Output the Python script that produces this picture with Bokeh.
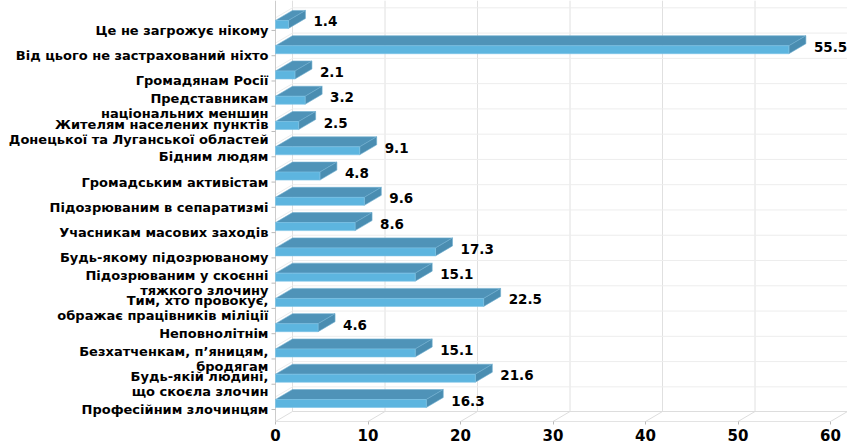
from bokeh.plotting import figure
from bokeh.models import ColumnDataSource, FixedTicker, Range1d
from bokeh.core.properties import value
from bokeh.embed import file_html
from bokeh.resources import INLINE

categories = [
    "Це не загрожує нікому",
    "Від цього не застрахований ніхто",
    "Громадянам Росії",
    "Представникам\nнаціональних меншин",
    "Жителям населених пунктів\nДонецької та Луганської областей",
    "Бідним людям",
    "Громадським активістам",
    "Підозрюваним в сепаратизмі",
    "Учасникам масових заходів",
    "Будь-якому підозрюваному",
    "Підозрюваним у скоєнні\nтяжкого злочину",
    "Тим, хто провокує,\nображає працівників міліції",
    "Неповнолітнім",
    "Безхатченкам, п’яницям,\nбродягам",
    "Будь-якій людині,\nщо скоєла злочин",
    "Професійним злочинцям",
]
values = [1.4, 55.5, 2.1, 3.2, 2.5, 9.1, 4.8, 9.6, 8.6, 17.3, 15.1, 22.5, 4.6, 15.1, 21.6, 16.3]
ticks = [0, 10, 20, 30, 40, 50, 60]
labels = [f"{v:.1f}" for v in values]

FONT = "DejaVu Sans"
W, H = 847, 446
PX_X = 9.25          # pixels per value unit
PX_Y = 25.27         # pixels per category
X0 = 275             # plot-x of value 0
xs, xe = -X0 / PX_X, (W - X0) / PX_X
ys, ye = -12 / PX_Y, 409 / PX_Y

p = figure(width=W, height=H, output_backend="svg", toolbar_location=None,
           x_range=Range1d(xs, xe), y_range=Range1d(ys, ye),
           y_axis_location=None, min_border_left=0, min_border_right=0,
           min_border_top=0, min_border_bottom=25)
p.xgrid.visible = False
p.ygrid.visible = False
p.outline_line_color = None
p.background_fill_color = "white"

dx = 17 / PX_X
dy = 10 / PX_Y
n = len(values)
ypos = [n - 1 - k for k in range(n)]
xmax = ticks[-1]

# back wall verticals
p.segment(x0=[t + dx for t in ticks], y0=[ys + dy] * len(ticks),
          x1=[t + dx for t in ticks], y1=[ye] * len(ticks),
          line_color="#E0E0E0", line_width=1)
# back wall horizontals and left-wall diagonals at category boundaries
bounds = [y + 0.5 for y in range(-1, n)]
bounds = [b for b in bounds if b > ys]
p.segment(x0=[dx] * len(bounds), y0=[b + dy for b in bounds],
          x1=[xmax + dx] * len(bounds), y1=[b + dy for b in bounds],
          line_color="#EDEDED", line_width=1)
p.segment(x0=[0] * len(bounds), y0=bounds, x1=[dx] * len(bounds),
          y1=[b + dy for b in bounds], line_color="#EDEDED", line_width=1)
# floor
p.segment(x0=[t for t in ticks], y0=[ys] * len(ticks),
          x1=[t + dx for t in ticks], y1=[ys + dy] * len(ticks),
          line_color="#DDDDDD", line_width=1)
p.segment(x0=[dx], y0=[ys + dy], x1=[xmax + dx], y1=[ys + dy],
          line_color="#DDDDDD", line_width=1)
p.segment(x0=[0], y0=[ys], x1=[xmax], y1=[ys], line_color="#C8C8C8", line_width=1)
# left axis line and ticks
p.segment(x0=[0], y0=[ys], x1=[0], y1=[ye], line_color="#CCCCCC", line_width=1)
p.segment(x0=[-4 / PX_X] * n, y0=ypos, x1=[0] * n, y1=ypos,
          line_color="#BBBBBB", line_width=1)

# bars
fb, ft = 2 / PX_Y, 10 / PX_Y
front_x, front_y, top_x, top_y, side_x, side_y = [], [], [], [], [], []
for v, y in zip(values, ypos):
    b, t = y + fb, y + ft
    front_x.append([0, v, v, 0]); front_y.append([b, b, t, t])
    top_x.append([0, v, v + dx, dx]); top_y.append([t, t, t + dy, t + dy])
    side_x.append([v, v, v + dx, v + dx]); side_y.append([b, t, t + dy, b + dy])

p.patches(xs=top_x, ys=top_y, fill_color="#4F93B8", line_color="#6FAFD0", line_width=0.6)
p.patches(xs=side_x, ys=side_y, fill_color="#4A8DB1", line_color="#6FAFD0", line_width=0.6)
p.patches(xs=front_x, ys=front_y, fill_color="#5DB5DF", line_color="#7CC3E6", line_width=0.6)

# value labels
vsrc = ColumnDataSource(dict(x=[v + dx + 8 / PX_X for v in values],
                             y=[y + 9 / PX_Y for y in ypos], t=labels))
p.text(x="x", y="y", text="t", source=vsrc, text_font=value(FONT),
       text_font_style="bold", text_font_size="13.5px", text_color="#000000",
       text_align="left", text_baseline="middle")

# category labels
csrc = ColumnDataSource(dict(x=[-7 / PX_X] * n, y=ypos, t=categories))
p.text(x="x", y="y", text="t", source=csrc, text_font=value(FONT),
       text_font_style="bold", text_font_size="13px", text_color="#000000",
       text_align="right", text_baseline="middle", text_line_height=1.0)

ax = p.xaxis[0]
ax.ticker = FixedTicker(ticks=ticks)
ax.axis_line_color = None
ax.major_tick_line_color = "#BBBBBB"
ax.major_tick_out = 3
ax.major_tick_in = 0
ax.minor_tick_line_color = None
ax.major_label_standoff = 4
ax.major_label_text_font = FONT
ax.major_label_text_font_style = "bold"
ax.major_label_text_font_size = "15px"
ax.major_label_text_color = "#000000"

open("out.html", "w").write(file_html(p, INLINE))
